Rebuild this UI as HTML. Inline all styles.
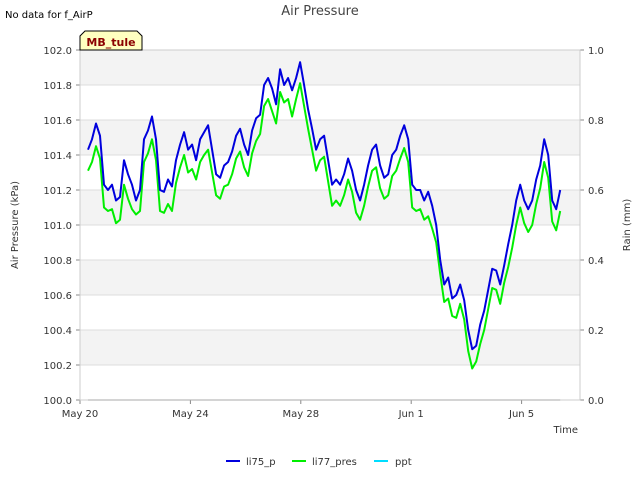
<!DOCTYPE html>
<html><head><meta charset="utf-8"><style>
body{margin:0;background:#fff;font-family:"Liberation Sans","DejaVu Sans",sans-serif}
svg text{font-family:"DejaVu Sans","Liberation Sans",sans-serif}
</style></head><body>
<svg id="c" width="640" height="480" viewBox="0 0 640 480">
<text x="5" y="18" font-size="10" fill="#000">No data for f_AirP</text>
<text x="320" y="15" font-size="13" fill="#444" text-anchor="middle">Air Pressure</text>
<g id="bands"></g>
<g id="grid"></g>
<g id="axes"></g>
<g id="series"></g>
<g>
<path d="M80,50 L80,36 L85,31 L137,31 L142,36 L142,50 Z" fill="#ffffc0" stroke="#000" stroke-width="1"/>
<text x="111" y="46" font-size="11" font-weight="bold" fill="#8b0000" text-anchor="middle">MB_tule</text>
</g>
<text x="18" y="225" font-size="10" fill="#333" text-anchor="middle" transform="rotate(-90 18 225)">Air Pressure (kPa)</text>
<text x="630" y="225" font-size="10" fill="#333" text-anchor="middle" transform="rotate(-90 630 225)">Rain (mm)</text>
<text x="578" y="433" font-size="10" fill="#333" text-anchor="end">Time</text>
<g>
<g><line x1="226" y1="461" x2="240" y2="461" stroke="#0000dd" stroke-width="2"/><text x="246" y="465" font-size="10" fill="#333">li75_p</text></g>
<g><line x1="292" y1="461" x2="306" y2="461" stroke="#00ee00" stroke-width="2"/><text x="312" y="465" font-size="10" fill="#333">li77_pres</text></g>
<g><line x1="374" y1="461" x2="388" y2="461" stroke="#00ddff" stroke-width="2"/><text x="395" y="465" font-size="10" fill="#333">ppt</text></g>
</g>
</svg>
<script>
const startDay = 0.29, stepDay = 0.145;
const li75 = [101.43,101.49,101.58,101.51,101.23,101.20,101.23,101.14,101.16,101.37,101.29,101.23,101.14,101.20,101.49,101.54,101.62,101.49,101.20,101.19,101.26,101.22,101.37,101.46,101.53,101.43,101.46,101.37,101.49,101.53,101.57,101.43,101.29,101.27,101.34,101.36,101.42,101.51,101.55,101.46,101.40,101.54,101.61,101.63,101.80,101.84,101.78,101.69,101.89,101.80,101.84,101.77,101.84,101.93,101.80,101.66,101.55,101.43,101.49,101.51,101.37,101.23,101.26,101.23,101.29,101.38,101.31,101.20,101.14,101.23,101.34,101.43,101.46,101.34,101.27,101.29,101.40,101.43,101.51,101.57,101.49,101.23,101.20,101.20,101.14,101.19,101.11,101.00,100.80,100.66,100.70,100.58,100.60,100.66,100.57,100.40,100.29,100.31,100.43,100.51,100.63,100.75,100.74,100.66,100.77,100.89,101.00,101.14,101.23,101.14,101.09,101.14,101.26,101.34,101.49,101.40,101.14,101.09,101.20];
const li77 = [101.31,101.36,101.45,101.38,101.10,101.08,101.09,101.01,101.03,101.23,101.15,101.09,101.06,101.08,101.36,101.41,101.49,101.37,101.08,101.07,101.12,101.08,101.24,101.33,101.40,101.30,101.32,101.26,101.36,101.40,101.43,101.30,101.17,101.15,101.22,101.23,101.29,101.38,101.42,101.33,101.28,101.41,101.48,101.52,101.68,101.72,101.65,101.58,101.76,101.70,101.72,101.62,101.72,101.81,101.68,101.55,101.43,101.31,101.37,101.39,101.25,101.11,101.14,101.11,101.17,101.26,101.19,101.07,101.03,101.11,101.22,101.31,101.33,101.21,101.15,101.17,101.28,101.31,101.38,101.44,101.36,101.10,101.08,101.09,101.03,101.05,100.98,100.90,100.72,100.56,100.58,100.48,100.47,100.55,100.46,100.28,100.18,100.22,100.32,100.40,100.52,100.64,100.63,100.55,100.67,100.76,100.87,101.00,101.10,101.01,100.96,101.00,101.12,101.21,101.36,101.27,101.02,100.97,101.08];
const ppt = li75.map(() => 0);
const xTicks = [0,4,8,12,16];
const xTickLabels = ["May 20","May 24","May 28","Jun 1","Jun 5"];
const yTicks = [100.0,100.2,100.4,100.6,100.8,101.0,101.2,101.4,101.6,101.8,102.0];
const y2Ticks = [0.0,0.2,0.4,0.6,0.8,1.0];

const L=80,R=580,T=50,B=400;
const xS=d=>L+d*27.6;
const yS=v=>B-(v-100)/2*(B-T);
const y2S=v=>B-v*(B-T);
const NS="http://www.w3.org/2000/svg";
function mk(tag,attrs,parent){const e=document.createElementNS(NS,tag);for(const k in attrs)e.setAttribute(k,attrs[k]);document.getElementById(parent).appendChild(e);return e;}
for(let i=0;i<yTicks.length-1;i++){
  const r=mk('rect',{x:L,y:yS(yTicks[i+1]),width:R-L,height:yS(yTicks[i])-yS(yTicks[i+1]),fill:(i%2==1)?'#f3f3f3':'#ffffff'},'bands');
  
  
}
yTicks.forEach(v=>{
  const l=mk('line',{x1:L,x2:R,y1:yS(v),y2:yS(v),stroke:'#dcdcdc','stroke-width':1},'grid');
  
  
  const t=mk('text',{x:L-8,y:yS(v)+4,'font-size':10,fill:'#333','text-anchor':'end'},'axes');
  t.textContent=v.toFixed(1);
  
  
  mk('line',{x1:L-4,x2:L,y1:yS(v),y2:yS(v),stroke:'#888'},'axes');
});
y2Ticks.forEach(v=>{
  const t=mk('text',{x:R+8,y:y2S(v)+4,'font-size':10,fill:'#333'},'axes');
  t.textContent=v.toFixed(1);
  
  
  mk('line',{x1:R,x2:R+4,y1:y2S(v),y2:y2S(v),stroke:'#888'},'axes');
});
xTicks.forEach((d,i)=>{
  mk('line',{x1:xS(d),x2:xS(d),y1:B,y2:B+4,stroke:'#888'},'axes');
  const t=mk('text',{x:xS(d),y:B+17,'font-size':10,fill:'#333','text-anchor':'middle'},'axes');
  t.textContent=xTickLabels[i];
  
  
});
mk('rect',{x:L,y:T,width:R-L,height:B-T,fill:'none',stroke:'#cccccc'},'axes');
function line(arr,sc,color,name,w){
  const pts=arr.map((v,i)=>xS(startDay+i*stepDay).toFixed(1)+','+sc(v).toFixed(1)).join(' ');
  const p=mk('polyline',{points:pts,fill:'none',stroke:color,'stroke-width':w,'stroke-linejoin':'round'},'series');
  
  
}
line(ppt,y2S,'#aaaaaa','ppt-line',1);
line(li77,yS,'#00ee00','li77-pres-line',2);
line(li75,yS,'#0000dd','li75-p-line',2);
</script>
</body></html>
